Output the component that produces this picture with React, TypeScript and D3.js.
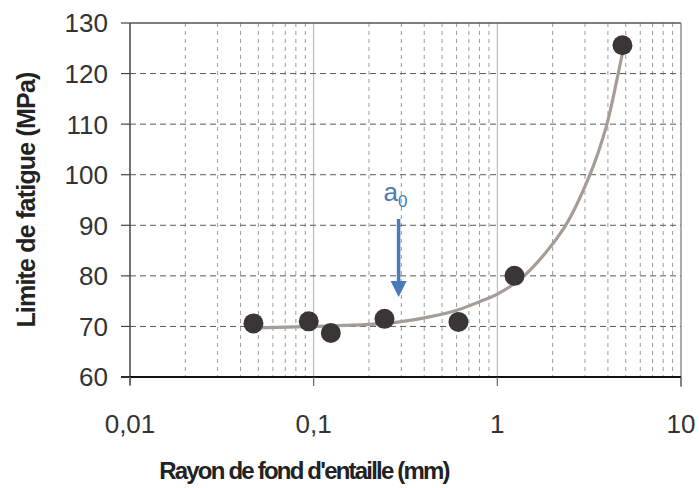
import React from 'react';
import * as d3 from 'd3';

// measured points
const radius = [0.047, 0.094, 0.124, 0.243, 0.614, 1.24, 4.8];
const limit = [70.6, 71.0, 68.7, 71.5, 70.9, 80.0, 125.6];

// fitted trend curve
const fitX = [0.047, 0.099, 0.2, 0.293, 0.427, 0.614, 0.8, 1.0, 1.38, 2.31, 3.16, 3.91, 4.55, 4.84];
const fitY = [69.7, 70.0, 70.4, 70.9, 71.9, 73.3, 74.9, 76.4, 79.8, 89.5, 99.6, 109.4, 120.0, 124.7];

const xTicks = [0.01, 0.1, 1, 10];
const xTickLabels = ['0,01', '0,1', '1', '10'];
const yTicks = [60, 70, 80, 90, 100, 110, 120, 130];
const a0 = 0.29;

const W = 699;
const H = 488;
const margin = { top: 23, right: 18, bottom: 111, left: 130 };

export default function App() {
  const x = d3.scaleLog().domain([0.01, 10]).range([margin.left, W - margin.right]);
  const y = d3.scaleLinear().domain([60, 130]).range([H - margin.bottom, margin.top]);

  const minor: number[] = [];
  [0.01, 0.1, 1].forEach(d => {
    for (let k = 2; k <= 9; k++) minor.push(d * k);
  });

  const line = d3.line<number>()
    .x((_, i) => x(fitX[i]))
    .y(d => y(d))
    .curve(d3.curveCatmullRom.alpha(0.5));

  const font = '"Liberation Sans", Arial, sans-serif';
  const ax = x(a0);

  return (
    <svg width={W} height={H} style={{ position: 'absolute', left: 0, top: 0, background: '#fff' }}>
      {/* grid */}
      {minor.map(d => (
        <line key={'m' + d} x1={x(d)} x2={x(d)} y1={y(130)} y2={y(60)}
          stroke="#9a9a9a" strokeWidth={1} strokeDasharray="4,4" />
      ))}
      {[0.1, 1].map(d => (
        <line key={'M' + d} x1={x(d)} x2={x(d)} y1={y(130)} y2={y(60)} stroke="#b0b0b0" strokeWidth={1} />
      ))}
      {yTicks.slice(1, -1).map(d => (
        <line key={'h' + d} x1={margin.left} x2={W - margin.right} y1={y(d)} y2={y(d)}
          stroke="#5a5a5a" strokeWidth={1} strokeDasharray="6,4" />
      ))}
      {/* frame */}
      <line x1={margin.left} x2={W - margin.right} y1={y(130)} y2={y(130)} stroke="#555" strokeWidth={1.5} />
      <line x1={W - margin.right} x2={W - margin.right} y1={y(130)} y2={y(60) + 10} stroke="#777" strokeWidth={1.2} />
      <line x1={margin.left} x2={margin.left} y1={y(130)} y2={y(60) + 8} stroke="#444" strokeWidth={1.5} />
      <line x1={margin.left - 9} x2={W - margin.right} y1={y(60)} y2={y(60)} stroke="#111" strokeWidth={2} />

      {/* y ticks */}
      {yTicks.map(d => (
        <g key={'yt' + d}>
          <line x1={margin.left - 9} x2={margin.left} y1={y(d)} y2={y(d)} stroke="#444" strokeWidth={1.2} />
          <text x={108} y={y(d)} dy="0.36em" textAnchor="end" fontFamily={font} fontSize={26} fill="#333">{d}</text>
        </g>
      ))}
      {/* x ticks */}
      {xTicks.map((d, i) => (
        <g key={'xt' + d}>
          <line x1={x(d)} x2={x(d)} y1={y(60)} y2={y(60) + 9} stroke="#666" strokeWidth={1.2} />
          <text x={x(d)} y={433} textAnchor="middle" fontFamily={font} fontSize={26} fill="#333">{xTickLabels[i]}</text>
        </g>
      ))}

      {/* trend curve */}
      <path d={line(fitY) || ''} fill="none" stroke="#a39c97" strokeWidth={3.2} />

      {/* points */}
      {radius.map((r, i) => (
        <circle key={'p' + i} cx={x(r)} cy={y(limit[i])} r={10} fill="#3b3636" />
      ))}

      {/* a0 arrow */}
      <line x1={ax} x2={ax} y1={219} y2={283} stroke="#4a7ab8" strokeWidth={3.5} />
      <path d={`M${ax - 8},281 L${ax + 8},281 L${ax},297 Z`} fill="#4a7ab8" />
      <text x={ax - 15} y={201} fontFamily={font} fontSize={26} fill="#4a7ab8">
        a<tspan fontSize={17} dy={6}>0</tspan>
      </text>

      {/* axis titles */}
      <text x={304} y={479} textAnchor="middle" fontFamily={font} fontSize={24} fontWeight="bold" fill="#222"
        letterSpacing={-1.8}>Rayon de fond d'entaille (mm)</text>
      <text transform={`translate(35,${(y(130) + y(60)) / 2 + 0}) rotate(-90)`} textAnchor="middle"
        fontFamily={font} fontSize={25} fontWeight="bold" fill="#222" letterSpacing={-0.8}>Limite de fatigue (MPa)</text>
    </svg>
  );
}
